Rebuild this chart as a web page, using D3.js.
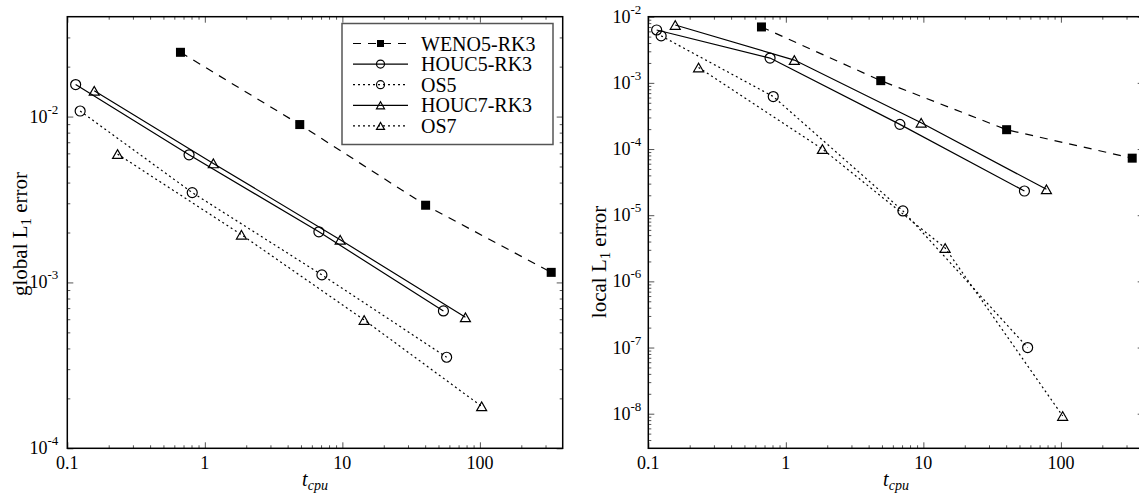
<!DOCTYPE html>
<html><head><meta charset="utf-8">
<script src="https://cdn.jsdelivr.net/npm/d3@7"></script>
<style>
body{margin:0;background:#fff}
svg{display:block}
</style>
</head><body>
<svg id="c" width="1139" height="501" style="font-family:'Liberation Serif','Times New Roman',Times,'DejaVu Serif',serif"></svg>
<script>
// ---- data ----
const seriesNames = ["WENO5-RK3","HOUC5-RK3","OS5","HOUC7-RK3","OS7"];
const xWENO5  = [0.665, 4.9, 40.3, 330];
const xHOUC5  = [0.115, 0.768, 6.75, 54.3];
const xOS5    = [0.124, 0.81, 7.1, 57.3];
const xHOUC7  = [0.157, 1.153, 9.64, 78.5];
const xOS7    = [0.232, 1.845, 14.4, 103];
// global L1 error
const gWENO5  = [0.0244, 0.00895, 0.00292, 0.00115];
const gHOUC5  = [0.0156, 0.00588, 0.00202, 0.000673];
const gOS5    = [0.0108, 0.00348, 0.00111, 0.000354];
const gHOUC7  = [0.0143, 0.00522, 0.00181, 0.000616];
const gOS7    = [0.00594, 0.00194, 0.000594, 0.000179];
// local L1 error
const lWENO5  = [0.0070, 0.00108, 0.000196, 0.0000728];
const lHOUC5  = [0.0063, 0.00237, 0.000236, 0.0000232];
const lOS5    = [0.00513, 0.000621, 0.0000116, 1.0e-7];
const lHOUC7  = [0.0075, 0.00221, 0.00025, 0.0000246];
const lOS7    = [0.00171, 0.0001, 0.0000032, 9.25e-9];
// ticks
const xMajor = [0.1, 1, 10, 100];
const xMajorLabels = ["0.1", "1", "10", "100"];
const yLeftExp = [-4, -3, -2];
const yRightExp = [-8, -7, -6, -5, -4, -3, -2];

// ---- styles ----
const FONT = "'Liberation Serif','Times New Roman',Times,'DejaVu Serif',serif";
const styles = {
  "WENO5-RK3": {dash: "8,7", marker: "square"},
  "HOUC5-RK3": {dash: null, marker: "circle"},
  "OS5":       {dash: "2,3", marker: "circle"},
  "HOUC7-RK3": {dash: null, marker: "triangle"},
  "OS7":       {dash: "2,3", marker: "triangle"}
};
const xs = [xWENO5, xHOUC5, xOS5, xHOUC7, xOS7];
const globalYs = [gWENO5, gHOUC5, gOS5, gHOUC7, gOS7];
const localYs  = [lWENO5, lHOUC5, lOS5, lHOUC7, lOS7];

const svg = d3.select("#c");

function minorTicks(lo, hi) {
  const out = [];
  for (let e = Math.floor(Math.log10(lo)); e <= Math.ceil(Math.log10(hi)); e++) {
    for (let m = 2; m <= 9; m++) {
      const v = m * Math.pow(10, e);
      if (v > lo * 1.0001 && v < hi * 0.9999) out.push(v);
    }
  }
  return out;
}

function txt(g) {
  return g.append("text").attr("font-family", FONT).attr("fill", "#000");
}

function drawMarker(g, type, cx, cy, size) {
  if (type === "square") {
    g.append("rect").attr("x", cx - size/2).attr("y", cy - size/2)
      .attr("width", size).attr("height", size).attr("fill", "#000");
  } else if (type === "circle") {
    g.append("circle").attr("cx", cx).attr("cy", cy).attr("r", size/2)
      .attr("fill", "none").attr("stroke", "#000").attr("stroke-width", 1.2);
  } else {
    const h = size * 0.87;
    g.append("path")
      .attr("d", `M${cx - size/2},${cy + h/2}L${cx + size/2},${cy + h/2}L${cx},${cy - h/2}Z`)
      .attr("fill", "none").attr("stroke", "#000").attr("stroke-width", 1.2);
  }
}

function panel(cfg) {
  const x = d3.scaleLog().domain([0.1, 400]).range([cfg.x0, cfg.x0 + cfg.w]);
  const y = d3.scaleLog().domain(cfg.ydom).range([cfg.y0 + cfg.h, cfg.y0]);
  const g = svg.append("g");

  const xMinor = minorTicks(0.1, 400);
  const yMajor = cfg.yexp.map(e => Math.pow(10, e));
  const yMinor = minorTicks(cfg.ydom[0], cfg.ydom[1]);
  const tickStyle = sel => sel.call(s => s.select(".domain").remove())
    .selectAll("line").attr("stroke", "#555").attr("stroke-width", 1);

  const axes = [
    [d3.axisBottom(x), `translate(0,${cfg.y0 + cfg.h})`, xMajor, xMinor],
    [d3.axisTop(x), `translate(0,${cfg.y0})`, xMajor, xMinor],
    [d3.axisLeft(y), `translate(${cfg.x0},0)`, yMajor, yMinor],
    [d3.axisRight(y), `translate(${cfg.x0 + cfg.w},0)`, yMajor, yMinor]
  ];
  axes.forEach(([ax, tr, maj, min]) => {
    g.append("g").attr("transform", tr)
      .call(ax.tickValues(min).tickSize(-3).tickFormat(""))
      .call(tickStyle);
    g.append("g").attr("transform", tr)
      .call(ax.tickValues(maj).tickSize(-6).tickFormat(""))
      .call(tickStyle);
  });

  g.append("rect").attr("x", cfg.x0).attr("y", cfg.y0)
    .attr("width", cfg.w).attr("height", cfg.h)
    .attr("fill", "none").attr("stroke", "#000").attr("stroke-width", 1.5);

  xMajor.forEach((v, i) => {
    txt(g).attr("x", x(v)).attr("y", cfg.y0 + cfg.h + 21)
      .attr("text-anchor", "middle").attr("font-size", 18).text(xMajorLabels[i]);
  });
  cfg.yexp.forEach(e => {
    const t = txt(g).attr("x", cfg.x0 - cfg.ylabGap).attr("y", y(Math.pow(10, e)) + 6)
      .attr("text-anchor", "end").attr("font-size", 18);
    t.append("tspan").text("10");
    t.append("tspan").attr("font-size", 13).attr("dy", -9).text(String(e));
  });

  const xt = txt(g).attr("x", cfg.x0 + cfg.w / 2)
    .attr("y", 486).attr("text-anchor", "middle").attr("font-size", 20)
    .attr("font-style", "italic");
  xt.append("tspan").text("t");
  xt.append("tspan").attr("font-size", 14).attr("dy", 4).text("cpu");

  const yt = txt(g)
    .attr("transform", `translate(${cfg.ytx},${cfg.yty}) rotate(-90)`)
    .attr("text-anchor", "middle").attr("font-size", cfg.ytsize);
  yt.append("tspan").text(cfg.ytitle + " L");
  yt.append("tspan").attr("font-size", cfg.ytsize * 0.7).attr("dy", 4).text("1");
  yt.append("tspan").attr("dy", -4).text(" error");

  const clipId = "clip" + cfg.id;
  svg.append("clipPath").attr("id", clipId).append("rect")
    .attr("x", cfg.x0 - 10).attr("y", cfg.y0 - 10).attr("width", cfg.w + 20).attr("height", cfg.h + 20);
  const dg = g.append("g").attr("clip-path", `url(#${clipId})`);
  const line = d3.line().x(d => x(d[0])).y(d => y(d[1]));
  seriesNames.forEach((name, i) => {
    const pts = xs[i].map((xv, j) => [xv, cfg.ys[i][j]]);
    const st = styles[name];
    dg.append("path").attr("d", line(pts)).attr("fill", "none")
      .attr("stroke", "#000").attr("stroke-width", 1.2)
      .attr("stroke-dasharray", st.dash);
    pts.forEach(p => drawMarker(dg, st.marker, x(p[0]), y(p[1]), st.marker === "square" ? 9 : 10));
  });
}

panel({id: "L", x0: 67.3, y0: 16.7, w: 495.4, h: 431.6, ydom: [1e-4, 4e-2], yexp: yLeftExp,
  ys: globalYs, ytitle: "global", ytx: 27, yty: 234, ylabGap: 9, ytsize: 21});
panel({id: "R", x0: 648.3, y0: 16.7, w: 495.4, h: 431.6, ydom: [3e-9, 1e-2], yexp: yRightExp,
  ys: localYs, ytitle: "local", ytx: 606, yty: 262, ylabGap: 7, ytsize: 21});

// legend
const lg = svg.append("g");
lg.append("rect").attr("x", 342).attr("y", 23.5).attr("width", 211).attr("height", 121)
  .attr("fill", "#fff").attr("stroke", "#555").attr("stroke-width", 1.5);
seriesNames.forEach((name, i) => {
  const yy = 43.5 + i * 20.6;
  const st = styles[name];
  lg.append("line").attr("x1", 353).attr("x2", 408).attr("y1", yy).attr("y2", yy)
    .attr("stroke", "#000").attr("stroke-width", 1.2).attr("stroke-dasharray", st.dash);
  drawMarker(lg, st.marker, 380.5, yy, st.marker === "square" ? 7 : 8);
  txt(lg).attr("x", 421).attr("y", yy + 7).attr("font-size", 20).text(name);
});
</script>
</body></html>
